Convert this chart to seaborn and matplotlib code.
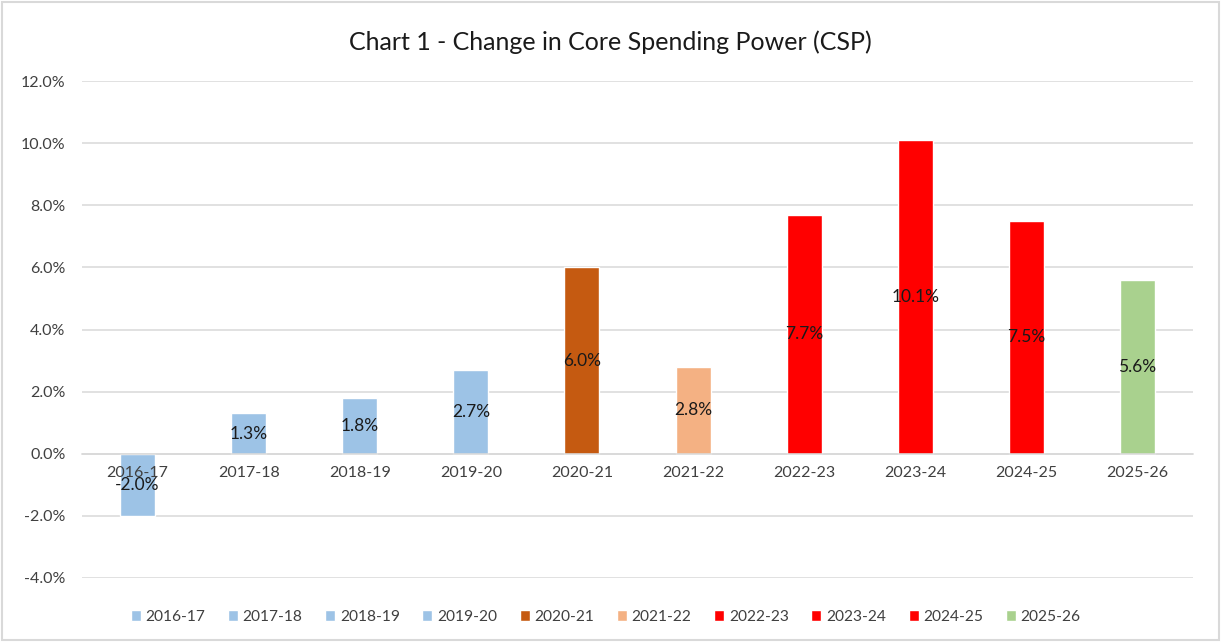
import matplotlib
matplotlib.use("Agg")
import matplotlib.pyplot as plt
import seaborn as sns
from matplotlib.patches import Rectangle
from matplotlib.ticker import FuncFormatter

# Data
years = ["2016-17", "2017-18", "2018-19", "2019-20", "2020-21",
         "2021-22", "2022-23", "2023-24", "2024-25", "2025-26"]
csp_change = [-2.0, 1.3, 1.8, 2.7, 6.0, 2.8, 7.7, 10.1, 7.5, 5.6]
bar_colors = ["#9DC3E6", "#9DC3E6", "#9DC3E6", "#9DC3E6", "#C55A11",
              "#F4B183", "#FF0000", "#FF0000", "#FF0000", "#A9D18E"]
yticks = [-4, -2, 0, 2, 4, 6, 8, 10, 12]

sns.set_style("white")
plt.rcParams["font.family"] = ["Lato", "DejaVu Sans"]

fig = plt.figure(figsize=(12.21, 6.42), dpi=100)
ax = fig.add_axes([0.0672, 0.0997, 0.9098, 0.7741])

sns.barplot(x=years, y=csp_change, hue=years, palette=bar_colors,
            width=0.315, legend=True, ax=ax, saturation=1)

# labels in the middle of each bar
for cont, v in zip(ax.containers, csp_change):
    ax.bar_label(cont, labels=[f"{v:.1f}%"], label_type="center",
                 fontsize=12.5, color="#1a1a1a")

ax.set_ylim(-4, 12)
ax.set_xlim(-0.5, len(years) - 0.5)
ax.set_yticks(yticks)
ax.yaxis.set_major_formatter(FuncFormatter(lambda v, p: f"{v:.1f}%"))

# gridlines behind the bars, tick labels on top of them
ax.grid(False)
ax.set_axisbelow(False)
for t in yticks:
    ax.axhline(t, color="#D9D9D9", linewidth=1.1, zorder=0)

for s in ["top", "right", "left"]:
    ax.spines[s].set_visible(False)
ax.spines["bottom"].set_position(("data", 0))
ax.spines["bottom"].set_color("#D9D9D9")
ax.spines["bottom"].set_linewidth(1.1)
ax.tick_params(axis="y", length=0, pad=12, labelsize=11.5, labelcolor="#404040")
ax.tick_params(axis="x", length=0, pad=9, labelsize=11.5, labelcolor="#404040")
ax.set_xlabel("")
ax.set_ylabel("")

# legend along the bottom
handles, labels = ax.get_legend_handles_labels()
ax.get_legend().remove()
fig.legend(handles, labels, loc="center", bbox_to_anchor=(0.496, 0.039),
           ncol=10, frameon=False, fontsize=11.2, handlelength=0.65,
           handleheight=0.65, handletextpad=0.3, columnspacing=1.45,
           labelcolor="#404040")

fig.suptitle("Chart 1 - Change in Core Spending Power (CSP)", y=0.935,
             va="center", fontsize=18, color="#1a1a1a")

fig.patches.append(Rectangle((0.002, 0.003), 0.996, 0.994, transform=fig.transFigure,
                             fill=False, edgecolor="#D9D9D9", linewidth=1.5))

fig.savefig("out.png", dpi=100)
